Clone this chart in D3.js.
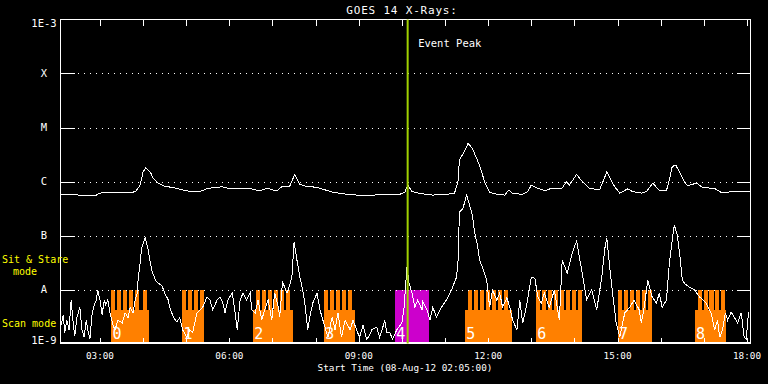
<!DOCTYPE html>
<html><head><meta charset="utf-8">
<script src="https://cdn.jsdelivr.net/npm/d3@7"></script>
<style>html,body{margin:0;padding:0;background:#000;}svg{display:block;}</style>
</head><body>
<svg id="c" width="768" height="384"></svg>
<script>
// ---------------- data ----------------
const obsDate = "2012-08-08";
const startTime = "02:05:00";
const endTime = "18:05:00";
const eventPeakTime = "10:08:00";
const chartTitle = "GOES 14 X-Rays:";
const eventLabel = "Event Peak";
const yTickValues = [1e-3, 1e-4, 1e-5, 1e-6, 1e-7, 1e-8, 1e-9];
const yTickLabels = ["1E-3", "X", "M", "C", "B", "A", "1E-9"];
const gridValues = [1e-4, 1e-5, 1e-6, 1e-7, 1e-8];

// long channel (1-8 A)
const longTimes = ["02:05","02:18","02:32","02:46","02:53","03:00","03:14","03:28","03:49","03:56","04:00","04:04","04:10","04:14","04:21","04:30","04:44","04:58","05:12","05:19","05:30","05:40","05:50","06:01","06:15","06:28","06:42","06:52","07:06","07:13","07:24","07:31","07:38","07:48","07:55","08:06","08:24","08:43","09:01","09:20","09:39","09:57","10:04","10:08","10:14","10:25","10:43","11:02","11:13","11:18","11:20","11:27","11:32","11:38","11:48","11:55","12:02","12:13","12:23","12:29","12:34","12:48","12:55","13:00","13:07","13:19","13:28","13:35","13:42","13:49","13:53","14:03","14:11","14:21","14:35","14:45","14:52","14:56","15:03","15:14","15:21","15:33","15:40","15:49","15:58","16:08","16:12","16:16","16:21","16:26","16:33","16:37","16:50","16:58","17:15","17:25","17:40","18:05"];
const longFlux = [5.7e-7,5.7e-7,5.6e-7,5.5e-7,5.4e-7,6.1e-7,6.3e-7,6.3e-7,6.4e-7,8.6e-7,1.5e-6,1.8e-6,1.5e-6,1.16e-6,9.4e-7,8.2e-7,7.6e-7,6.8e-7,6.4e-7,6.5e-7,7.5e-7,7.7e-7,8.0e-7,7.3e-7,7.5e-7,7.5e-7,6.7e-7,7.5e-7,6.7e-7,8.0e-7,8.2e-7,1.36e-6,8.9e-7,8.0e-7,8.0e-7,7.5e-7,6.3e-7,5.8e-7,5.55e-7,5.6e-7,5.8e-7,5.8e-7,6.3e-7,8.6e-7,6.5e-7,6.0e-7,5.6e-7,5.8e-7,6.0e-7,9.9e-7,2.5e-6,3.6e-6,5.1e-6,4.1e-6,2.0e-6,9.9e-7,6.3e-7,5.8e-7,5.6e-7,7.0e-7,6.0e-7,5.8e-7,6.5e-7,8.6e-7,7.7e-7,6.7e-7,7.5e-7,7.5e-7,7.3e-7,9.9e-7,8.6e-7,1.36e-6,9.9e-7,7.5e-7,7.0e-7,1.5e-6,9.9e-7,8.0e-7,6.1e-7,7.3e-7,6.5e-7,6.1e-7,6.5e-7,9.3e-7,6.8e-7,6.8e-7,1.07e-6,1.9e-6,2.0e-6,1.5e-6,9.9e-7,8.4e-7,9.3e-7,7.8e-7,7.4e-7,6.2e-7,6.5e-7,6.5e-7];

// short channel (0.5-4 A)
const shortTimes = ["02:06","02:09","02:11","02:14","02:17","02:20","02:23","02:25","02:28","02:32","02:35","02:38","02:41","02:43","02:46","02:49","02:52","02:55","02:57","03:00","03:03","03:06","03:08","03:11","03:14","03:18","03:21","03:25","03:31","03:35","03:39","03:42","03:46","03:49","03:52","03:53","03:56","03:58","04:03","04:07","04:10","04:12","04:17","04:21","04:26","04:30","04:35","04:37","04:42","04:47","04:51","04:55","05:01","05:05","05:09","05:15","05:19","05:23","05:29","05:33","05:37","05:43","05:47","05:51","05:54","05:58","06:04","06:08","06:11","06:15","06:19","06:24","06:29","06:31","06:36","06:40","06:45","06:49","06:54","06:59","07:03","07:08","07:10","07:14","07:20","07:24","07:27","07:30","07:34","07:38","07:42","07:45","07:49","07:52","07:56","08:02","08:06","08:13","08:17","08:23","08:27","08:31","08:36","08:41","08:48","08:52","08:57","09:01","09:06","09:11","09:15","09:18","09:25","09:29","09:33","09:36","09:39","09:43","09:47","09:53","10:00","10:03","10:07","10:10","10:14","10:18","10:22","10:28","10:29","10:35","10:39","10:43","10:48","10:55","11:02","11:09","11:16","11:18","11:20","11:25","11:30","11:34","11:38","11:41","11:45","11:48","11:51","11:58","12:02","12:06","12:12","12:16","12:20","12:26","12:30","12:34","12:40","12:44","12:48","12:53","13:00","13:05","13:09","13:14","13:18","13:25","13:32","13:39","13:43","13:50","13:57","14:03","14:10","14:17","14:24","14:31","14:38","14:42","14:45","14:49","14:53","14:58","15:03","15:10","15:17","15:23","15:30","15:33","15:37","15:42","15:48","15:54","15:58","16:02","16:08","16:12","16:16","16:19","16:23","16:27","16:30","16:33","16:40","16:47","16:54","17:03","17:10","17:15","17:19","17:22","17:26","17:30","17:33","17:38","17:42","17:47","17:52","17:56","17:59","18:02"];
const shortFlux = [2.2e-9,3.4e-9,1.6e-9,2.7e-9,1.8e-9,6.4e-9,2.2e-9,1.4e-9,3.0e-9,4.7e-9,
1.8e-9,1.3e-9,2.7e-9,1.8e-9,1.2e-9,3.4e-9,5.2e-9,6.4e-9,9.8e-9,6.4e-9,
3.4e-9,6.4e-9,5.2e-9,6.4e-9,3.7e-9,2.2e-9,1.8e-9,2.7e-9,2.4e-9,3.7e-9,
3.0e-9,4.7e-9,3.7e-9,6.4e-9,8.6e-9,1.5e-8,3.2e-8,5.9e-8,9.0e-8,5.5e-8,
3.2e-8,2.3e-8,1.5e-8,1.3e-8,1.2e-8,8.6e-9,6.4e-9,4.7e-9,3.1e-9,2.5e-9,
3.0e-9,1.8e-9,1.3e-9,1.8e-9,1.6e-9,3.7e-9,4.2e-9,4.7e-9,7.3e-9,6.4e-9,
4.2e-9,6.4e-9,7.3e-9,5.6e-9,3.7e-9,6.4e-9,8.6e-9,3.7e-9,1.8e-9,6.4e-9,
8.6e-9,6.4e-9,8.6e-9,4.2e-9,3.7e-9,6.4e-9,2.7e-9,4.2e-9,6.4e-9,2.7e-9,
8.6e-9,4.7e-9,3.1e-9,1.4e-8,8.6e-9,1.2e-8,1.7e-8,7.6e-8,3.5e-8,1.7e-8,
9.8e-9,5.6e-9,1.8e-9,3.1e-9,5.6e-9,8.6e-9,4.2e-9,2.0e-9,1.3e-9,3.1e-9,
1.8e-9,3.7e-9,1.3e-9,2.7e-9,1.8e-9,2.7e-9,1.8e-9,1.3e-9,2.2e-9,1.2e-9,
1.4e-9,1.8e-9,2.0e-9,1.3e-9,1.9e-9,2.7e-9,1.6e-9,1.6e-9,1.2e-9,1.8e-9,
2.4e-9,4.7e-9,2.6e-8,1.3e-8,8.6e-9,4.7e-9,6.4e-9,4.2e-9,5.9e-9,4.2e-9,
2.7e-9,4.7e-9,3.1e-9,4.7e-9,6.4e-9,9.8e-9,1.7e-8,3.2e-8,2.7e-7,3.2e-7,
5.6e-7,3.7e-7,2.4e-7,1.16e-7,6.7e-8,3.5e-8,2.8e-8,1.5e-8,4.7e-9,9.8e-9,
6.4e-9,8.6e-9,4.7e-9,7.0e-9,4.7e-9,2.7e-9,1.8e-9,6.4e-9,2.4e-9,4.7e-9,
1.7e-8,1.6e-8,7.3e-9,5.6e-9,8.6e-9,4.7e-9,9.8e-9,2.7e-9,3.5e-8,2.0e-8,
4.8e-8,7.9e-8,2.3e-8,6.4e-9,9.8e-9,4.2e-9,1.7e-8,5.5e-8,9.0e-8,2.6e-8,
8.6e-9,2.4e-9,1.3e-9,3.7e-9,4.7e-9,6.4e-9,4.2e-9,2.4e-9,4.7e-9,1.5e-8,
7.3e-9,5.6e-9,8.6e-9,4.7e-9,6.4e-9,3.1e-8,8.3e-8,1.57e-7,1.02e-7,3.8e-8,
1.5e-8,1.3e-8,1.1e-8,9.8e-9,7.3e-9,5.6e-9,3.7e-9,1.8e-9,2.7e-9,1.3e-9,
1.8e-9,3.7e-9,2.7e-9,3.8e-9,3.1e-9,2.4e-9,3.7e-9,1.3e-9,1.2e-9,3.8e-9];

// observing-mode blocks
const blockLabels = ["0","1","2","3","4","5","6","7","8"];
const blockModes = ["scan","scan","scan","scan","stare","scan","scan","scan","scan"];
const blockStarts = ["03:15:18","04:54:00","06:32:42","08:11:24","09:50:00","11:27:18","13:06:00","15:00:00","16:47:00"];
const blockEnds = ["04:08:06","05:24:36","07:28:18","08:54:24","10:37:18","12:32:36","14:09:54","15:47:12","17:30:06"];
const blockTeeth = [
  ["03:15:18","03:23:38","03:31:58","03:40:18","03:48:38","03:59:48"],
  ["04:54:00","05:02:20","05:10:40","05:19:00"],
  ["06:36:48","06:45:08","06:53:28","07:01:48","07:10:08","07:18:28"],
  ["08:11:24","08:19:44","08:28:04","08:36:24","08:44:44"],
  [],
  ["11:31:30","11:39:50","11:48:10","11:56:30","12:04:50","12:13:10","12:21:30"],
  ["13:06:00","13:14:20","13:22:40","13:31:00","13:39:20","13:47:40","13:56:00","14:04:20"],
  ["15:00:00","15:08:20","15:16:40","15:25:00","15:33:20","15:41:40"],
  ["16:51:10","16:59:30","17:07:50","17:16:10","17:24:30"]
];
const toothSeconds = 334;
const scanLevel = 4.2e-9;
const stareLevel = 1e-8;
const modeTexts = [["Sit & Stare", "mode"], ["Scan mode"]];

// ---------------- drawing ----------------
const parse = d3.utcParse("%Y-%m-%d %H:%M:%S");
const T = s => parse(obsDate + " " + (s.length === 5 ? s + ":00" : s));

const W = 768, H = 384;
const L = 60.4, R = 750.6, TOP = 19.5, BOT = 343.5;
const x = d3.scaleUtc().domain([T(startTime), T(endTime)]).range([L, R]);
const y = d3.scaleLog().domain([1e-9, 1e-3]).range([BOT, TOP]);

const svg = d3.select("#c");
svg.append("rect").attr("width", W).attr("height", H).attr("fill", "#000");

const mono = "'DejaVu Sans Mono', monospace";
const ORANGE = "#ff8000", MAGENTA = "#cc00cc";

// mode blocks
const gB = svg.append("g").attr("shape-rendering", "crispEdges");
blockLabels.forEach((lab, i) => {
  const s = T(blockStarts[i]), e = T(blockEnds[i]);
  if (blockModes[i] === "stare") {
    gB.append("rect").attr("x", x(s)).attr("width", x(e) - x(s))
      .attr("y", y(stareLevel)).attr("height", y(1e-9) - y(stareLevel)).attr("fill", MAGENTA);
  } else {
    gB.append("rect").attr("x", x(s)).attr("width", x(e) - x(s))
      .attr("y", y(scanLevel)).attr("height", y(1e-9) - y(scanLevel)).attr("fill", ORANGE);
    blockTeeth[i].forEach(t => {
      const ts = T(t);
      const te = new Date(Math.min(+ts + toothSeconds * 1000, +e));
      gB.append("rect").attr("x", x(ts)).attr("width", x(te) - x(ts))
        .attr("y", y(stareLevel)).attr("height", y(scanLevel) - y(stareLevel) + 0.5).attr("fill", ORANGE);
    });
  }
});

// grid (dotted)
svg.append("g").selectAll("line").data(gridValues).join("line")
  .attr("x1", L).attr("x2", R)
  .attr("y1", d => Math.round(y(d)) + 0.5).attr("y2", d => Math.round(y(d)) + 0.5)
  .attr("stroke", "#fff").attr("stroke-width", 1).attr("stroke-dasharray", "1,5")
  .attr("shape-rendering", "crispEdges");

// major y ticks left/right
const gT = svg.append("g").attr("stroke", "#fff").attr("shape-rendering", "crispEdges");
gridValues.forEach(v => {
  const yy = Math.round(y(v)) + 0.5;
  gT.append("line").attr("x1", L).attr("x2", L + 15).attr("y1", yy).attr("y2", yy);
  gT.append("line").attr("x1", R - 14).attr("x2", R).attr("y1", yy).attr("y2", yy);
});

// x ticks hourly (top and bottom)
const hourTicks = x.ticks(d3.utcHour.every(1));
hourTicks.forEach(t => {
  const xx = Math.round(x(t)) + 0.5;
  gT.append("line").attr("x1", xx).attr("x2", xx).attr("y1", TOP).attr("y2", TOP + 6);
  gT.append("line").attr("x1", xx).attr("x2", xx).attr("y1", BOT).attr("y2", BOT - 6);
});

// curves
svg.append("clipPath").attr("id", "clip").append("rect")
  .attr("x", L).attr("y", TOP).attr("width", R - L).attr("height", BOT - TOP);
const line = d3.line().x(d => x(d[0])).y(d => y(d[1]));
const longData = longTimes.map((t, i) => [T(t), longFlux[i]]);
const shortData = shortTimes.map((t, i) => [T(t), shortFlux[i]]);
const gC = svg.append("g").attr("clip-path", "url(#clip)");
gC.append("path").attr("d", line(longData)).attr("fill", "none").attr("stroke", "#fff")
  .attr("stroke-width", 1).attr("shape-rendering", "crispEdges");
gC.append("path").attr("d", line(shortData)).attr("fill", "none").attr("stroke", "#fff")
  .attr("stroke-width", 1).attr("shape-rendering", "crispEdges");

// block numbers
blockLabels.forEach((lab, i) => {
  svg.append("text").attr("x", x(T(blockStarts[i])) + 1.5).attr("y", 338.5)
    .attr("fill", "#fff").attr("font-family", mono).attr("font-size", 15).text(lab);
});

// frame
const gF = svg.append("g").attr("stroke", "#fff").attr("shape-rendering", "crispEdges");
gF.append("line").attr("x1", L).attr("x2", R).attr("y1", TOP).attr("y2", TOP);
gF.append("line").attr("x1", Math.round(L) + 0.5).attr("x2", Math.round(L) + 0.5).attr("y1", TOP).attr("y2", BOT);
gF.append("line").attr("x1", Math.round(R) - 0.5).attr("x2", Math.round(R) - 0.5).attr("y1", TOP).attr("y2", BOT);
gF.append("line").attr("x1", L).attr("x2", R).attr("y1", BOT - 0.5).attr("y2", BOT - 0.5).attr("stroke-width", 2);

// event peak line
svg.append("line").attr("x1", x(T(eventPeakTime))).attr("x2", x(T(eventPeakTime)))
  .attr("y1", TOP).attr("y2", BOT).attr("stroke", "#a0d000").attr("stroke-width", 2);
svg.append("text").attr("x", x(T(eventPeakTime)) + 10.5).attr("y", 47)
  .attr("fill", "#fff").attr("font-family", mono).attr("font-size", 10.5).text(eventLabel);

// y labels
yTickValues.forEach((v, i) => {
  const dy = i === 0 ? 3.5 : (i === yTickValues.length - 1 ? -3.5 : 0);
  svg.append("text").attr("x", 44).attr("y", y(v) + dy).attr("dy", "0.36em")
    .attr("text-anchor", "middle").attr("fill", "#fff")
    .attr("font-family", mono).attr("font-size", 10.5).text(yTickLabels[i]);
});

// x labels
const fmt = d3.utcFormat("%H:%M");
x.ticks(d3.utcHour.every(3)).forEach(t => {
  svg.append("text").attr("x", x(t)).attr("y", 359)
    .attr("text-anchor", "middle").attr("fill", "#fff")
    .attr("font-family", mono).attr("font-size", 9.3).text(fmt(t));
});
svg.append("text").attr("x", 405).attr("y", 371).attr("text-anchor", "middle")
  .attr("fill", "#fff").attr("font-family", mono).attr("font-size", 9.4)
  .text("Start Time (" + d3.utcFormat("%d-%b-%y %H:%M:%S")(T(startTime)) + ")");

// title
svg.append("text").attr("x", 402).attr("y", 13.5).attr("text-anchor", "middle")
  .attr("fill", "#fff").attr("font-family", mono).attr("font-size", 11)
  .attr("letter-spacing", 0.8).text(chartTitle);

// mode legend texts
svg.append("text").attr("x", 2).attr("y", 263).attr("fill", "#ffff00")
  .attr("font-family", mono).attr("font-size", 10).text(modeTexts[0][0]);
svg.append("text").attr("x", 13).attr("y", 275).attr("fill", "#ffff00")
  .attr("font-family", mono).attr("font-size", 10).text(modeTexts[0][1]);
svg.append("text").attr("x", 2).attr("y", 327).attr("fill", "#ffff00")
  .attr("font-family", mono).attr("font-size", 10).text(modeTexts[1][0]);
</script>
</body></html>
